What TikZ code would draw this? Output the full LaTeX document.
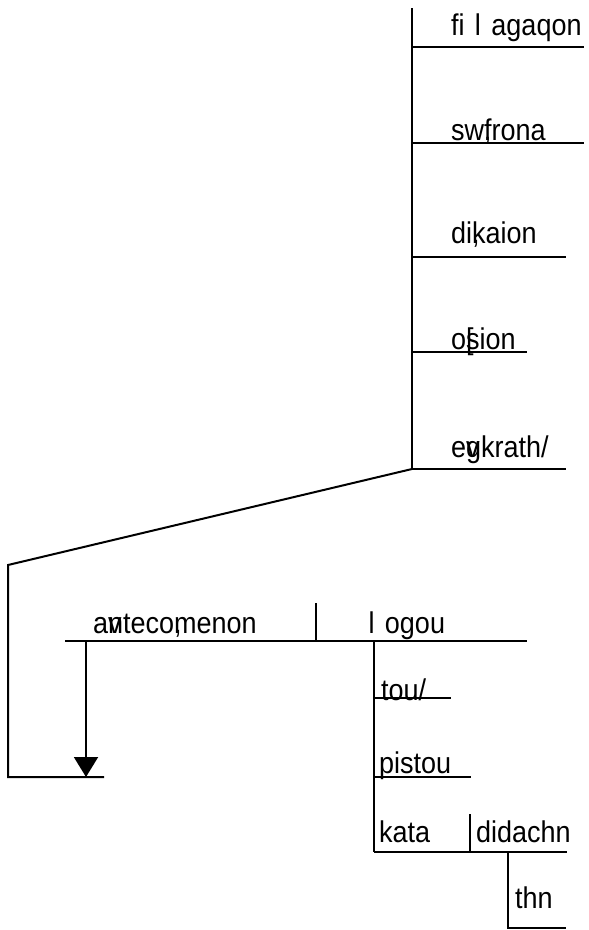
\documentclass[tikz,border=0pt]{standalone}
\usepackage{fontspec}
\setmainfont{Liberation Sans}[FakeStretch=0.9]
\usetikzlibrary{arrows.meta}

\newcommand{\wideel}{\makebox[0.9em]{l}}
\newcommand{\ovl}[1]{\rlap{#1}}

\tikzset{word/.style={draw=none, anchor=base west, inner sep=0pt, font=\fontsize{30}{33}\selectfont}}

\begin{document}
\begin{tikzpicture}[x=1pt, y=-1pt, line width=2pt]
\useasboundingbox (0,0) rectangle (589,930);

% predicate stack
\draw (412,8) -- (412,469);
\draw (412,47) -- (584,47);
\draw (412,143) -- (584,143);
\draw (412,257) -- (566,257);
\draw (412,352) -- (527,352);
\draw (412,469) -- (566,469);

\path (450,35) node[word] (fil) {fi\wideel agaqon};
\path (450,140) node[word] (sw) {sw\ovl{,}frona};
\path (450,243) node[word] (dik) {di\ovl{,}kaion};
\path (450,349) node[word] (os) {o\ovl{[}sion};
\path (450,457) node[word] (egk) {e\ovl{v}gkrath/};

% link down to the participle
\coordinate (knee) at (8,565);
\coordinate (foot) at (8,777);
\coordinate (tip) at (86,777);
\draw (412,469) -- (knee) -- (foot) -- (104,777);
\draw [-{Triangle[width=24pt,length=20pt]}] (86,641) -- (tip);

% participle line
\draw (65,641) -- (527,641);
\draw (316,603) -- (316,641);
\path (92,633) node[word] (ant) {a\ovl{v}nteco\ovl{,}menon};
\path (357,633) node[word] (log) {\wideel ogou};

% modifiers of logou
\draw (374,641) -- (374,852);
\draw (374,698) -- (451,698);
\draw (374,777) -- (471,777);
\draw (374,852) -- (567,852);
\draw (470,814) -- (470,852);
\path (380,700) node[word] (tou) {tou/};
\path (378,773) node[word] (pis) {pistou};
\path (378,842) node[word] (kat) {kata};
\path (475,842) node[word] (did) {didachn};

\draw (508,852) -- (508,928) -- (566,928);
\path (514,908) node[word] (thn) {thn};

\end{tikzpicture}
\end{document}
